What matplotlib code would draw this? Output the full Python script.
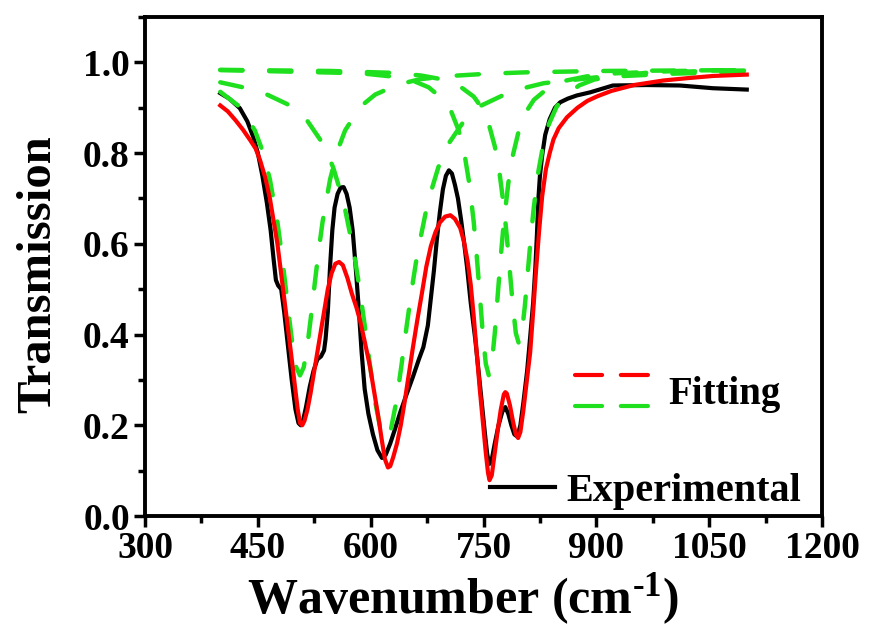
import matplotlib
matplotlib.use("Agg")
import matplotlib.pyplot as plt
from matplotlib.ticker import MultipleLocator, FormatStrFormatter
from matplotlib.legend_handler import HandlerBase
from matplotlib.lines import Line2D

plt.rcParams['font.family'] = ['Liberation Serif', 'DejaVu Serif']
plt.rcParams['font.weight'] = 'bold'
plt.rcParams['axes.labelweight'] = 'bold'
plt.rcParams['mathtext.fontset'] = 'custom'
plt.rcParams['mathtext.rm'] = 'Liberation Serif:bold'
plt.rcParams['mathtext.default'] = 'rm'

GREEN = '#1ee01e'

# experimental spectrum
exp_x = [400, 412, 426, 436, 444, 450, 456, 462, 467, 471, 474, 477, 481, 485, 490, 495, 500,
         504, 507, 510, 514, 519, 524, 529, 534, 538, 540, 543, 546, 549, 552, 556, 560, 564,
         568, 572, 576, 580, 584, 588, 592, 597, 603, 609, 615, 620, 626, 632, 639, 647, 656,
         664, 670, 676, 680, 684, 688, 692, 696, 700, 704, 708, 712, 716, 720, 724, 728, 733,
         739, 744, 748, 752, 755, 758, 761, 765, 770, 775, 779, 783, 787, 791, 795, 799, 803,
         808, 812, 816, 819, 821, 823, 825, 828, 832, 838, 845, 852, 862, 874, 892, 922, 967,
         1011, 1055, 1100]
exp_y = [0.932, 0.92, 0.899, 0.87, 0.835, 0.80, 0.75, 0.69, 0.63, 0.565, 0.52, 0.508, 0.50,
         0.45, 0.375, 0.30, 0.235, 0.205, 0.20, 0.21, 0.24, 0.285, 0.32, 0.345, 0.352, 0.365,
         0.39, 0.45, 0.55, 0.63, 0.68, 0.71, 0.724, 0.725, 0.71, 0.68, 0.63, 0.55, 0.46, 0.36,
         0.28, 0.225, 0.18, 0.145, 0.128, 0.135, 0.16, 0.19, 0.227, 0.265, 0.306, 0.345, 0.372,
         0.42, 0.48, 0.54, 0.61, 0.67, 0.72, 0.75, 0.762, 0.755, 0.73, 0.70, 0.655, 0.605,
         0.55, 0.47, 0.39, 0.31, 0.245, 0.18, 0.135, 0.115, 0.125, 0.16, 0.20, 0.23, 0.24,
         0.225, 0.20, 0.18, 0.175, 0.20, 0.25, 0.32, 0.394, 0.47, 0.55, 0.62, 0.70, 0.75, 0.795,
         0.84, 0.875, 0.90, 0.912, 0.92, 0.927, 0.934, 0.949, 0.95, 0.949, 0.943, 0.94]

# total fit
fit_x = [400, 410, 420, 430, 440, 447, 453, 460, 466, 470, 476, 482, 488, 494, 499, 503, 506,
         509, 512, 516, 520, 526, 532, 538, 543, 548, 553, 558, 563, 569, 575, 581, 586, 592,
         599, 605, 610, 615, 619, 623, 626, 630, 635, 640, 645, 650, 656, 662, 668, 674, 680,
         686, 692, 699, 706, 712, 719, 724, 729, 733, 737, 741, 745, 749, 753, 756, 758, 761,
         765, 769, 773, 777, 779, 781, 785, 789, 793, 796, 799, 803, 807, 812, 816, 820, 824,
         828, 833, 838, 843, 850, 861, 875, 888, 901, 920, 950, 989, 1020, 1055, 1100]
fit_y = [0.905, 0.892, 0.873, 0.852, 0.828, 0.81, 0.784, 0.745, 0.70, 0.66, 0.60, 0.52,
         0.44, 0.36, 0.29, 0.235, 0.205, 0.20, 0.21, 0.235, 0.27, 0.33, 0.39, 0.45, 0.50,
         0.535, 0.556, 0.56, 0.553, 0.525, 0.49, 0.46, 0.43, 0.385, 0.33, 0.27, 0.22, 0.165,
         0.125, 0.107, 0.11, 0.13, 0.16, 0.20, 0.25, 0.305, 0.37, 0.432, 0.49, 0.55, 0.595,
         0.625, 0.647, 0.66, 0.663, 0.655, 0.635, 0.605, 0.56, 0.51, 0.44, 0.36, 0.28, 0.21,
         0.14, 0.095, 0.079, 0.09, 0.14, 0.19, 0.235, 0.268, 0.273, 0.27, 0.245, 0.21, 0.18,
         0.172, 0.185, 0.233, 0.29, 0.36, 0.45, 0.545, 0.63, 0.705, 0.765, 0.80, 0.83, 0.855,
         0.879, 0.90, 0.915, 0.925, 0.937, 0.95, 0.96, 0.965, 0.97, 0.973]

# fitted components
g1_x = [400, 426, 446, 456, 466, 476, 481, 486, 491, 496, 501, 506, 511, 516, 521, 526, 531,
        536, 546, 556, 566, 586, 606, 636, 666, 706, 756, 806, 906, 1100]
g1_y = [0.935, 0.902, 0.85, 0.806, 0.742, 0.648, 0.587, 0.518, 0.445, 0.378, 0.328, 0.31,
        0.328, 0.378, 0.445, 0.518, 0.587, 0.648, 0.742, 0.806, 0.85, 0.902, 0.929, 0.951,
        0.963, 0.970, 0.975, 0.978, 0.981, 0.983]

g2_x = [400, 452, 494, 515, 536, 550, 564, 578, 585, 592, 599, 606, 613, 620, 627, 634, 641,
        648, 655, 662, 676, 690, 704, 725, 746, 788, 830, 900, 1000, 1100]
g2_y = [0.956, 0.937, 0.904, 0.873, 0.822, 0.769, 0.692, 0.578, 0.504, 0.421, 0.333, 0.2515,
        0.192, 0.17, 0.192, 0.2515, 0.333, 0.421, 0.504, 0.578, 0.692, 0.769, 0.822, 0.873,
        0.904, 0.937, 0.954, 0.967, 0.975, 0.979]

g3_x = [400, 587, 627, 657, 677, 697, 707, 717, 725, 731, 737, 741, 745, 749, 753, 757, 761,
        765, 769, 773, 777, 783, 789, 797, 807, 817, 837, 857, 887, 927, 1007, 1100]
g3_y = [0.983, 0.976, 0.969, 0.959, 0.945, 0.9175, 0.892, 0.85, 0.795, 0.734, 0.648, 0.573,
        0.489, 0.403, 0.336, 0.31, 0.336, 0.403, 0.489, 0.573, 0.648, 0.734, 0.795, 0.85,
        0.892, 0.9175, 0.945, 0.959, 0.969, 0.976, 0.981, 0.983]

g4_x = [400, 547, 627, 667, 697, 717, 737, 747, 757, 765, 771, 777, 781, 785, 789, 793, 797,
        801, 805, 809, 813, 817, 823, 829, 837, 847, 857, 877, 897, 927, 967, 1047, 1100]
g4_y = [0.9835, 0.981, 0.977, 0.971, 0.962, 0.949, 0.9245, 0.9015, 0.864, 0.815, 0.76,
        0.6825, 0.616, 0.54, 0.4635, 0.403, 0.38, 0.403, 0.4635, 0.54, 0.616, 0.6825, 0.76,
        0.815, 0.864, 0.9015, 0.9245, 0.949, 0.962, 0.971, 0.977, 0.981, 0.982]

components = [(g1_x, g1_y), (g2_x, g2_y), (g3_x, g3_y), (g4_x, g4_y)]


class StackedDashHandler(HandlerBase):
    # red dashes above green dashes, like the original legend
    def create_artists(self, legend, orig_handle, xdescent, ydescent, width, height, fontsize, trans):
        mid = height / 2 - ydescent
        arts = []
        for col, dy in (('red', 11), (GREEN, -11)):
            ln = Line2D([-xdescent, width - xdescent], [mid + dy, mid + dy], color=col, lw=3,
                        dashes=(6.5, 4.5), dash_capstyle='round', transform=trans)
            arts.append(ln)
        return arts


fig = plt.figure(figsize=(8.69, 6.34), dpi=100)
ax = fig.add_axes([0.1669, 0.1861, 0.7790, 0.7871])

exp_line, = ax.plot(exp_x, exp_y, color='black', lw=3, solid_joinstyle='round')
for cx, cy in components:
    ax.plot(cx, cy, color=GREEN, lw=3.2, dashes=(5, 6), dash_capstyle='round')
fit_line, = ax.plot(fit_x, fit_y, color='red', lw=3, solid_joinstyle='round')

ax.set_xlim(300, 1200)
ax.set_ylim(0, 1.1)
ax.xaxis.set_major_locator(MultipleLocator(150))
ax.xaxis.set_minor_locator(MultipleLocator(75))
ax.yaxis.set_major_locator(MultipleLocator(0.2))
ax.yaxis.set_minor_locator(MultipleLocator(0.1))
ax.yaxis.set_major_formatter(FormatStrFormatter('%.1f'))
ax.tick_params(which='major', direction='out', length=8, width=2.5, labelsize=27, pad=3)
ax.tick_params(which='minor', direction='out', length=5, width=2.5)
for sp in ax.spines.values():
    sp.set_linewidth(2.8)

ax.set_xlabel(r'Wavenumber (cm$^{\text{-1}}$)', fontsize=36)
ax.set_ylabel('Transmission', fontsize=35)
ax.xaxis.set_label_coords(0.47, -0.11)
ax.yaxis.set_label_coords(-0.125, 0.485)

leg1 = ax.legend([fit_line], ['Fitting'], handler_map={fit_line: StackedDashHandler()},
                 loc='center left', bbox_to_anchor=(0.635, 0.243), frameon=False,
                 fontsize=28, handlelength=2.0, handletextpad=0.4, borderpad=0, borderaxespad=0)
ax.add_artist(leg1)
ax.legend([exp_line], ['Experimental'], loc='center left', bbox_to_anchor=(0.51, 0.05),
          frameon=False, fontsize=29, handlelength=1.6, handletextpad=0.3, borderpad=0,
          borderaxespad=0)

fig.savefig('out.png', dpi=100)
